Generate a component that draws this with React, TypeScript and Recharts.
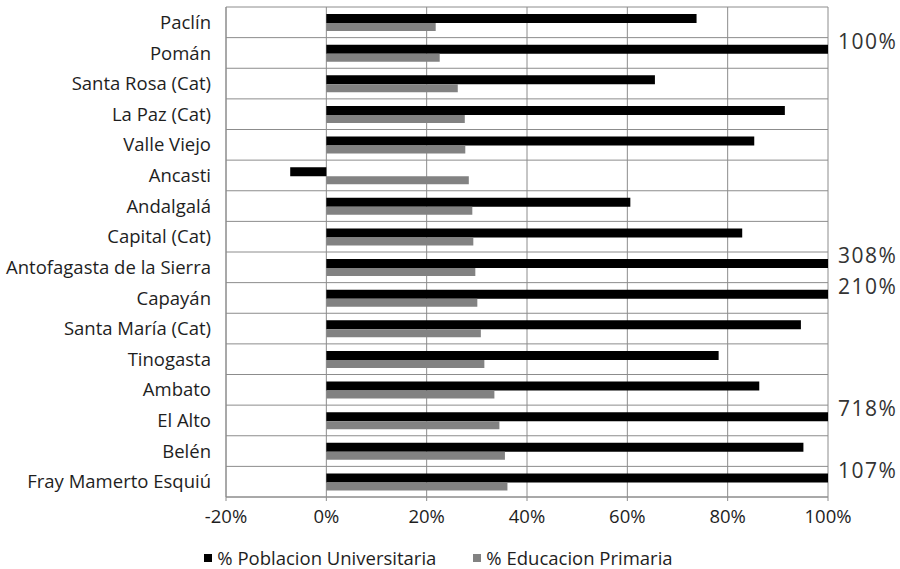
import React from 'react';
import { BarChart, Bar, XAxis, YAxis, CartesianGrid, Legend } from 'recharts';

const categories = [
  'Paclín', 'Pomán', 'Santa Rosa (Cat)', 'La Paz (Cat)', 'Valle Viejo', 'Ancasti', 'Andalgalá',
  'Capital (Cat)', 'Antofagasta de la Sierra', 'Capayán', 'Santa María (Cat)', 'Tinogasta',
  'Ambato', 'El Alto', 'Belén', 'Fray Mamerto Esquiú',
];
const poblacionUniversitaria = [73.8, 100, 65.5, 91.4, 85.3, -7.2, 60.6, 82.9, 308, 210, 94.6, 78.2, 86.3, 718, 95.1, 107];
const educacionPrimaria = [21.8, 22.6, 26.2, 27.6, 27.7, 28.4, 29.1, 29.3, 29.7, 30.1, 30.8, 31.5, 33.5, 34.5, 35.6, 36.1];
const xTicks = [-20, 0, 20, 40, 60, 80, 100];

const data = categories.map((name, i) => ({
  name,
  universitaria: poblacionUniversitaria[i],
  primaria: educacionPrimaria[i],
}));

const GRID = '#8c8c8c';
const TEXT = '#1e1e1e';
const FONT_SIZE = 18.5;

// values above the axis max get their real number written beside the clipped bar
const overflowLabel = (props: any) => {
  const { x, y, width, height, value } = props;
  if (value < 100) return null;
  const edge = x + (width * 100) / value;
  return (
    <text x={edge + 10} y={y + height / 2 - 6} fontSize={21} fill="#333" letterSpacing={1.5} dominantBaseline="middle">
      {`${value}%`}
    </text>
  );
};

const renderLegend = () => (
  <div
    style={{
      display: 'flex',
      justifyContent: 'center',
      gap: 37,
      fontSize: FONT_SIZE,
      lineHeight: '22px',
      color: TEXT,
      paddingLeft: 49,
      paddingTop: 22,
    }}
  >
    <span style={{ display: 'flex', alignItems: 'center' }}>
      <span style={{ width: 8, height: 8, background: '#000', marginRight: 5, display: 'inline-block' }} />
      % Poblacion Universitaria
    </span>
    <span style={{ display: 'flex', alignItems: 'center' }}>
      <span style={{ width: 8, height: 8, background: '#828282', marginRight: 5, display: 'inline-block' }} />
      % Educacion Primaria
    </span>
  </div>
);

const App: React.FC = () => {
  return (
    <div style={{ fontFamily: '"Open Sans", sans-serif', width: 900, height: 569 }}>
      <style>{'body{margin:0}'}</style>
      <BarChart
        width={900}
        height={569}
        data={data}
        layout="vertical"
        margin={{ top: 7, right: 72, left: 0, bottom: 0 }}
        barGap={0}
      >
        <CartesianGrid
          stroke={GRID}
          horizontalCoordinatesGenerator={({ offset }: any) =>
            Array.from({ length: categories.length + 1 }, (_, i) => offset.top + (i * offset.height) / categories.length)
          }
        />
        <XAxis
          type="number"
          domain={[-20, 100]}
          ticks={xTicks}
          allowDataOverflow
          tickFormatter={(v) => `${v}%`}
          tick={{ fontSize: FONT_SIZE, fill: TEXT }}
          stroke={GRID}
          tickSize={4}
          tickMargin={9}
          height={28}
        />
        <YAxis
          type="category"
          dataKey="name"
          width={226}
          tick={{ fontSize: FONT_SIZE, fill: TEXT }}
          stroke={GRID}
          tickLine={false}
          tickSize={6}
          tickMargin={9}
          interval={0}
        />
        <Legend verticalAlign="bottom" height={44} content={renderLegend} />
        <Bar dataKey="universitaria" name="% Poblacion Universitaria" fill="#000" barSize={9} isAnimationActive={false} label={overflowLabel} />
        <Bar dataKey="primaria" name="% Educacion Primaria" fill="#828282" barSize={8} isAnimationActive={false} />
      </BarChart>
    </div>
  );
};

export default App;
